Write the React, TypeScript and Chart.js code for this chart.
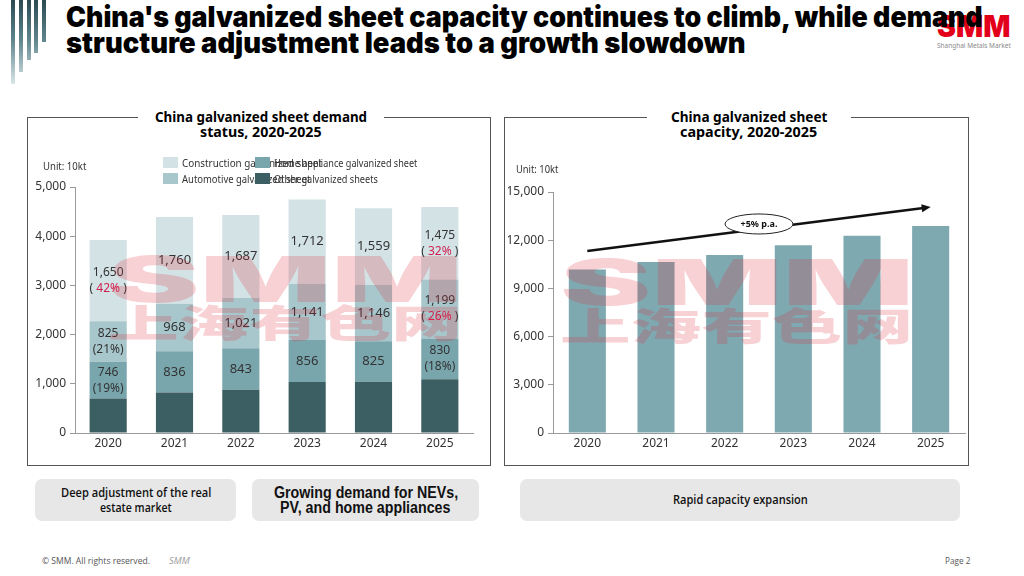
import React, { useEffect, useLayoutEffect, useRef, useState } from "react";
import { Chart, registerables } from "chart.js";

Chart.register(...registerables);

// ---------- data ----------
const years = ["2020", "2021", "2022", "2023", "2024", "2025"];

const othersDemand = [700, 825, 880, 1035, 1040, 1090];
const homeApplianceDemand = [746, 836, 843, 856, 825, 830];
const automotiveDemand = [825, 968, 1021, 1141, 1146, 1199];
const constructionDemand = [1650, 1760, 1687, 1712, 1559, 1475];

const constructionShare = ["42%", "", "", "", "", "32%"];
const automotiveShare = ["21%", "", "", "", "", "26%"];
const homeApplianceShare = ["19%", "", "", "", "", "18%"];

const constructionShareHighlight = [true, false, false, false, false, true];
const automotiveShareHighlight = [false, false, false, false, false, true];
const homeApplianceShareHighlight = [false, false, false, false, false, false];

const capacity = [10170, 10650, 11080, 11680, 12280, 12880];
const trendStartValue = 11330;
const trendEndValue = 14060;
const trendLabelValue = 13010;
const trendLabel = "+5% p.a.";

const demandMax = 5000;
const demandStep = 1000;
const capacityMax = 15000;
const capacityStep = 3000;

// ---------- style ----------
const COL = {
  others: "#3c5f63",
  home: "#79a6ad",
  auto: "#a8c7cc",
  constr: "#d3e2e5",
  cap: "#7fa9b1",
  axis: "#9a9a9a",
  text: "#333333",
  red: "#d11f4f",
};
const FONT = "'Noto Sans', 'Open Sans', sans-serif";

function FitText(props: {
  text: string;
  left: number;
  top: number;
  width: number;
  font: string;
  color?: string;
  lh?: number;
  z?: number;
}) {
  const ref = useRef<HTMLSpanElement>(null);
  const [sx, setSx] = useState(1);
  useLayoutEffect(() => {
    const measure = () => {
      const el = ref.current;
      if (!el) return;
      const w = el.offsetWidth;
      if (w > 0) setSx(props.width / w);
    };
    measure();
    if ((document as any).fonts && (document as any).fonts.ready) {
      (document as any).fonts.ready.then(measure);
    }
  }, [props.text, props.width, props.font]);
  return (
    <span
      ref={ref}
      style={{
        position: "absolute",
        left: props.left,
        top: props.top,
        font: props.font,
        lineHeight: props.lh ?? 1,
        color: props.color ?? "#000",
        whiteSpace: "nowrap",
        display: "inline-block",
        transform: `scaleX(${sx})`,
        transformOrigin: "0 0",
        zIndex: props.z ?? 1,
      }}
    >
      {props.text}
    </span>
  );
}

const segmentLabelPlugin = {
  id: "segmentLabels",
  afterDatasetsDraw(chart: any) {
    const ctx = chart.ctx;
    ctx.save();
    ctx.textAlign = "center";
    ctx.textBaseline = "middle";
    chart.data.datasets.forEach((ds: any, di: number) => {
      if (!ds.shares) return;
      const meta = chart.getDatasetMeta(di);
      meta.data.forEach((bar: any, i: number) => {
        const p = bar.getProps(["x", "y", "base"], true);
        const cy = (p.y + p.base) / 2;
        const val = Number(ds.data[i]).toLocaleString("en-US");
        const share = ds.shares[i];
        ctx.fillStyle = COL.text;
        if (!share) {
          ctx.font = `13px ${FONT}`;
          ctx.fillText(val, p.x, cy);
          return;
        }
        ctx.font = `12px ${FONT}`;
        ctx.fillText(val, p.x, cy - 8);
        if (ds.highlight[i]) {
          const a = "( ";
          const b = share;
          const c = " )";
          const wa = ctx.measureText(a).width;
          const wb = ctx.measureText(b).width;
          const wc = ctx.measureText(c).width;
          let x = p.x - (wa + wb + wc) / 2;
          ctx.textAlign = "left";
          ctx.fillStyle = COL.text;
          ctx.fillText(a, x, cy + 8);
          x += wa;
          ctx.fillStyle = COL.red;
          ctx.fillText(b, x, cy + 8);
          x += wb;
          ctx.fillStyle = COL.text;
          ctx.fillText(c, x, cy + 8);
          ctx.textAlign = "center";
        } else {
          ctx.fillText(`(${share})`, p.x, cy + 8);
        }
      });
    });
    ctx.restore();
  },
};

const trendPlugin = {
  id: "trendArrow",
  afterDatasetsDraw(chart: any) {
    const ctx = chart.ctx;
    const xs = chart.scales.x;
    const ys = chart.scales.y;
    const x0 = xs.getPixelForValue(0);
    const x1 = xs.getPixelForValue(years.length - 1);
    const y0 = ys.getPixelForValue(trendStartValue);
    const y1 = ys.getPixelForValue(trendEndValue);
    const ang = Math.atan2(y1 - y0, x1 - x0);
    const head = 9;
    ctx.save();
    ctx.strokeStyle = "#111";
    ctx.fillStyle = "#111";
    ctx.lineWidth = 2.4;
    ctx.beginPath();
    ctx.moveTo(x0, y0);
    ctx.lineTo(x1 - Math.cos(ang) * head * 0.8, y1 - Math.sin(ang) * head * 0.8);
    ctx.stroke();
    ctx.beginPath();
    ctx.moveTo(x1, y1);
    ctx.lineTo(
      x1 - Math.cos(ang) * head + Math.sin(ang) * 4,
      y1 - Math.sin(ang) * head - Math.cos(ang) * 4
    );
    ctx.lineTo(
      x1 - Math.cos(ang) * head - Math.sin(ang) * 4,
      y1 - Math.sin(ang) * head + Math.cos(ang) * 4
    );
    ctx.closePath();
    ctx.fill();
    // label ellipse
    const cx = (xs.getPixelForValue(2) + xs.getPixelForValue(3)) / 2;
    const cy = ys.getPixelForValue(trendLabelValue);
    ctx.beginPath();
    ctx.ellipse(cx, cy, 34, 10, 0, 0, Math.PI * 2);
    ctx.fillStyle = "#fff";
    ctx.fill();
    ctx.lineWidth = 1;
    ctx.strokeStyle = "#222";
    ctx.stroke();
    ctx.fillStyle = "#111";
    ctx.font = `bold 9px ${FONT}`;
    ctx.textAlign = "center";
    ctx.textBaseline = "middle";
    ctx.fillText(trendLabel, cx, cy);
    ctx.restore();
  },
};

function commonScales(max: number, step: number) {
  return {
    x: {
      stacked: true,
      grid: { display: false, drawTicks: false, tickLength: 0 },
      border: { display: true, color: COL.axis, width: 1 },
      ticks: { color: COL.text, font: { family: FONT, size: 12 }, padding: 3 },
      afterFit: (s: any) => {
        s.height = 29;
      },
    },
    y: {
      stacked: true,
      min: 0,
      max,
      ticks: {
        stepSize: step,
        color: COL.text,
        font: { family: FONT, size: 12 },
        padding: 4,
        callback: (v: any) => Number(v).toLocaleString("en-US"),
      },
      grid: {
        display: true,
        drawOnChartArea: false,
        drawTicks: true,
        tickLength: 5,
        color: COL.axis,
      },
      border: { display: true, color: COL.axis, width: 1 },
      afterFit: (s: any) => {
        s.width = 45;
      },
    },
  };
}

function DemandChart() {
  const ref = useRef<HTMLCanvasElement>(null);
  useEffect(() => {
    if (!ref.current) return;
    const chart = new Chart(ref.current, {
      type: "bar",
      data: {
        labels: years,
        datasets: [
          { label: "Other galvanized sheets", data: othersDemand, backgroundColor: COL.others },
          {
            label: "Home appliance galvanized sheet",
            data: homeApplianceDemand,
            backgroundColor: COL.home,
            shares: homeApplianceShare,
            highlight: homeApplianceShareHighlight,
          } as any,
          {
            label: "Automotive galvanized sheet",
            data: automotiveDemand,
            backgroundColor: COL.auto,
            shares: automotiveShare,
            highlight: automotiveShareHighlight,
          } as any,
          {
            label: "Construction galvanized sheet",
            data: constructionDemand,
            backgroundColor: COL.constr,
            shares: constructionShare,
            highlight: constructionShareHighlight,
          } as any,
        ],
      },
      options: {
        animation: false,
        responsive: false,
        maintainAspectRatio: false,
        layout: { padding: { top: 37, right: 12, left: 0, bottom: 0 } },
        plugins: { legend: { display: false }, tooltip: { enabled: false } },
        datasets: { bar: { barPercentage: 0.56, categoryPercentage: 1, borderWidth: 0 } },
        scales: commonScales(demandMax, demandStep) as any,
      },
      plugins: [segmentLabelPlugin],
    });
    return () => chart.destroy();
  }, []);
  return (
    <canvas
      ref={ref}
      width={455}
      height={312}
      style={{ position: "absolute", left: 30, top: 150, width: 455, height: 312 }}
    />
  );
}

function CapacityChart() {
  const ref = useRef<HTMLCanvasElement>(null);
  useEffect(() => {
    if (!ref.current) return;
    const chart = new Chart(ref.current, {
      type: "bar",
      data: {
        labels: years,
        datasets: [{ label: "Capacity", data: capacity, backgroundColor: COL.cap }],
      },
      options: {
        animation: false,
        responsive: false,
        maintainAspectRatio: false,
        layout: { padding: { top: 42, right: 13, left: 0, bottom: 0 } },
        plugins: { legend: { display: false }, tooltip: { enabled: false } },
        datasets: { bar: { barPercentage: 0.54, categoryPercentage: 1, borderWidth: 0 } },
        scales: commonScales(capacityMax, capacityStep) as any,
      },
      plugins: [trendPlugin],
    });
    return () => chart.destroy();
  }, []);
  return (
    <canvas
      ref={ref}
      width={470}
      height={312}
      style={{ position: "absolute", left: 508, top: 150, width: 470, height: 312 }}
    />
  );
}

function Watermark(props: { left: number; top: number; width: number }) {
  const c = "rgba(222, 40, 55, 0.21)";
  return (
    <>
      <FitText
        text="SMM"
        left={props.left}
        top={props.top - 8.6}
        width={props.width}
        font="900 63px Inter, 'DejaVu Sans', sans-serif"
        color={c}
        z={5}
      />
      <FitText
        text="上海有色网"
        left={props.left}
        top={props.top + 45}
        width={props.width}
        font="900 38px 'Noto Sans CJK SC', sans-serif"
        color={c}
        z={5}
      />
    </>
  );
}

function LegendItem(props: { left: number; top: number; color: string; text: string; width: number }) {
  return (
    <>
      <FitText
        text={props.text}
        left={props.left + 19}
        top={props.top - 1}
        width={props.width}
        font={`11px ${FONT}`}
        color={COL.text}
        lh={1.2}
        z={2}
      />
      <div
        style={{
          position: "absolute",
          left: props.left,
          top: props.top,
          width: 15,
          height: 11,
          background: props.color,
          zIndex: 3,
        }}
      />
    </>
  );
}

function Panel(props: { left: number; width: number; gapLeft: number; gapRight: number }) {
  return (
    <>
      <div
        style={{
          position: "absolute",
          left: props.left,
          top: 117,
          width: props.width,
          height: 349,
          border: "1px solid #555",
          boxSizing: "border-box",
        }}
      />
      <div
        style={{
          position: "absolute",
          left: props.gapLeft,
          top: 112,
          width: props.gapRight - props.gapLeft,
          height: 12,
          background: "#fff",
        }}
      />
    </>
  );
}

function InfoBox(props: { left: number; width: number }) {
  return (
    <div
      style={{
        position: "absolute",
        left: props.left,
        top: 479,
        width: props.width,
        height: 42,
        background: "#e7e7e7",
        borderRadius: 7,
      }}
    />
  );
}

export default function App() {
  const stripes = [
    { x: 11, h: 84 },
    { x: 19, h: 72 },
    { x: 27, h: 60 },
    { x: 34, h: 53 },
    { x: 42, h: 42 },
  ];
  const chartTitleFont = `bold 13.5px ${FONT}`;
  const boxFont = `600 12.5px 'Open Sans', sans-serif`;
  const titleFont = "900 28px Inter, sans-serif";
  return (
    <div
      style={{
        position: "fixed",
        left: 0,
        top: 0,
        width: 1024,
        height: 576,
        background: "#fff",
        overflow: "hidden",
        fontFamily: FONT,
      }}
    >
      {/* header stripes */}
      {stripes.map((s, i) => (
        <div
          key={i}
          style={{
            position: "absolute",
            left: s.x,
            top: 0,
            width: 4,
            height: s.h,
            background: "linear-gradient(to bottom, #2b4a52 0px, #5f858c 40px, #dbe8ea 85px)",
            backgroundSize: "100% 85px",
          }}
        />
      ))}

      {/* logo */}
      <FitText text="SMM" left={937} top={10.9} width={73} font="900 30px Inter, sans-serif" color="#e3001b" z={1} />
      <FitText
        text="Shanghai Metals Market"
        left={937}
        top={42}
        width={74}
        font={`7px ${FONT}`}
        color="#8a8a8a"
        z={1}
      />

      {/* title */}
      <FitText
        text="China's galvanized sheet capacity continues to climb, while demand"
        left={66}
        top={3.2}
        width={917}
        font={titleFont}
        color="#000"
        z={4}
      />
      <FitText
        text="structure adjustment leads to a growth slowdown"
        left={66}
        top={29.2}
        width={679}
        font={titleFont}
        color="#000"
        z={4}
      />

      {/* panels */}
      <Panel left={27} width={464} gapLeft={138} gapRight={384} />
      <Panel left={504} width={465} gapLeft={647} gapRight={851} />

      <FitText text="China galvanized sheet demand" left={155} top={109} width={212} font={chartTitleFont} lh={1.2} z={2} />
      <FitText text="status, 2020-2025" left={200} top={124} width={122} font={chartTitleFont} lh={1.2} z={2} />
      <FitText text="China galvanized sheet" left={671} top={109} width={156} font={chartTitleFont} lh={1.2} z={2} />
      <FitText text="capacity, 2020-2025" left={680} top={124} width={137} font={chartTitleFont} lh={1.2} z={2} />

      <DemandChart />
      <CapacityChart />

      <FitText text="Unit: 10kt" left={43} top={160} width={43} font={`10px ${FONT}`} color={COL.text} lh={1.2} z={2} />
      <FitText text="Unit: 10kt" left={516} top={163} width={42} font={`10px ${FONT}`} color={COL.text} lh={1.2} z={2} />

      {/* legend */}
      <LegendItem left={163} top={157} color={COL.constr} text="Construction galvanized sheet" width={140} />
      <LegendItem left={255} top={157} color={COL.home} text="Home appliance galvanized sheet" width={143} />
      <LegendItem left={163} top={173} color={COL.auto} text="Automotive galvanized sheet" width={128} />
      <LegendItem left={255} top={173} color={COL.others} text="Other galvanized sheets" width={104} />

      {/* watermarks */}
      <Watermark left={108} top={257} width={354} />
      <Watermark left={560} top={260} width={353} />

      {/* bottom boxes */}
      <InfoBox left={35} width={201} />
      <InfoBox left={252} width={227} />
      <InfoBox left={520} width={440} />
      <FitText text="Deep adjustment of the real" left={61} top={485} width={150} font={boxFont} color="#111" lh={1.2} z={2} />
      <FitText text="estate market" left={100} top={500} width={72} font={boxFont} color="#111" lh={1.2} z={2} />
      <FitText text="Growing demand for NEVs," left={274} top={483} width={184} font="bold 16px 'Liberation Sans', Arial, sans-serif" color="#111" lh={1.2} z={2} />
      <FitText text="PV, and home appliances" left={280} top={498} width={170} font="bold 16px 'Liberation Sans', Arial, sans-serif" color="#111" lh={1.2} z={2} />
      <FitText text="Rapid capacity expansion" left={673} top={492} width={135} font={boxFont} color="#111" lh={1.2} z={2} />

      {/* footer */}
      <FitText text="© SMM. All rights reserved." left={42} top={555} width={108} font={`9.5px 'Open Sans', sans-serif`} color="#555" lh={1.2} />
      <FitText text="SMM" left={169} top={555} width={21} font={`italic 9.5px 'Open Sans', sans-serif`} color="#9a9a9a" lh={1.2} />
      <FitText text="Page 2" left={945} top={555} width={25} font={`9.5px 'Open Sans', sans-serif`} color="#555" lh={1.2} />
    </div>
  );
}
